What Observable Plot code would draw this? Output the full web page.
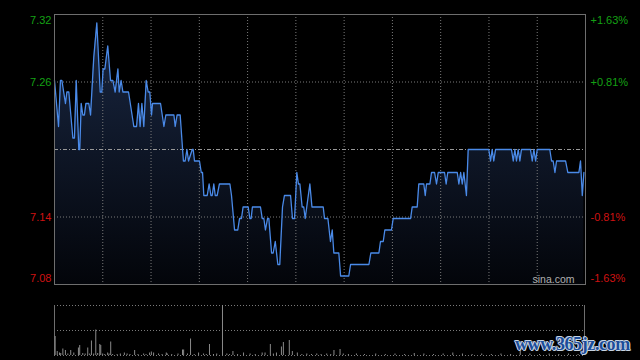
<!DOCTYPE html>
<html><head><meta charset="utf-8">
<script src="https://cdn.jsdelivr.net/npm/d3@7"></script>
<script src="https://cdn.jsdelivr.net/npm/@observablehq/plot@0.6"></script>
<style>
html,body{margin:0;padding:0;background:#000;}
#wrap{position:relative;width:640px;height:360px;overflow:hidden;background:#000;}
#price,#vol{position:absolute;left:0;}
#price{top:0;}
#vol{top:290px;}
#wm{position:absolute;left:515px;top:335px;font:bold 18px "Liberation Serif","Times New Roman",serif;letter-spacing:-0.4px;line-height:1;color:#1b4d9b;
text-shadow:1px 0 0 #c9d5e2,-1px 0 0 #c9d5e2,0 1px 0 #c9d5e2,0 -1px 0 #c9d5e2,1px 1px 0 #9fb2c8,-1px -1px 0 #9fb2c8;white-space:nowrap;}
</style></head>
<body>
<div id="wrap"><div id="price"></div><div id="vol"></div><div id="wm">www.365jz.com</div></div>
<script>
// ---- data (minutes since open, price) ----
const priceTimes = [0,2.5,3.7,4.6,6.8,7.7,8.9,11.4,12.4,13.5,15.1,15.7,16.6,17.6,18.6,19.5,21.3,22.4,24.4,26.3,
28.4,29.4,30.2,31.3,33.1,34.8,36.3,37.7,39.4,40.2,41.4,42.5,46,49.3,51,52.2,53.2,54.3,55.5,57,
58.2,59.2,60.3,60.9,65.9,68,69.2,74.2,75,76.2,78.1,80.1,81.2,82.3,83.3,85.6,86.2,87,90.1,91.2,
92,92.8,94.9,96.1,97.2,98,99,99.9,101.1,102.5,109,110,111.9,113.9,115,116.2,117.2,120.4,121.4,122.2,
123,128,129.1,130.1,131.1,132.4,133.2,134.9,135.9,137.2,138.8,140,141.7,142.9,146.7,147.9,149.2,150.6,151.6,152.5,
153.9,154.9,155.8,158.7,160,167,167.8,169.9,171.5,172.6,173.6,176.7,177.8,182.9,184,195.4,196.6,201.6,202.6,204.3,
205.3,209.4,210.5,221.3,222.3,225.4,226.4,229.5,230.4,231.2,233.3,234.3,236.2,237.4,238.5,242.4,243.4,244.4,250.3,251.3,
252.4,253.4,254.4,256,257.1,269.9,271,272,273,274.1,284,285.1,286.1,287.1,288.2,289.2,290.2,295.8,296.9,297.9,
299,300,307.8,308.9,309.9,311,312,317.6,319,325.9,326.9,328,329];
const priceValues = [7.26,7.22,7.26,7.26,7.24,7.25,7.25,7.21,7.21,7.26,7.20,7.20,7.24,7.23,7.23,7.24,7.24,7.23,7.28,7.31,
7.25,7.25,7.27,7.27,7.29,7.26,7.26,7.25,7.27,7.25,7.26,7.25,7.25,7.22,7.22,7.24,7.22,7.24,7.22,7.26,
7.25,7.25,7.23,7.24,7.24,7.22,7.23,7.23,7.22,7.23,7.23,7.19,7.19,7.20,7.19,7.20,7.20,7.19,7.19,7.18,
7.18,7.16,7.16,7.17,7.16,7.16,7.17,7.16,7.16,7.17,7.17,7.16,7.13,7.13,7.14,7.14,7.15,7.15,7.14,7.14,
7.15,7.15,7.14,7.14,7.13,7.14,7.14,7.11,7.11,7.12,7.10,7.10,7.15,7.16,7.16,7.14,7.14,7.18,7.17,7.17,
7.15,7.15,7.14,7.17,7.15,7.15,7.14,7.14,7.12,7.13,7.11,7.11,7.09,7.09,7.10,7.10,7.11,7.11,7.12,7.12,
7.13,7.13,7.14,7.14,7.15,7.15,7.17,7.17,7.16,7.17,7.17,7.18,7.18,7.17,7.18,7.18,7.17,7.18,7.18,7.17,
7.18,7.17,7.18,7.16,7.20,7.20,7.19,7.20,7.19,7.20,7.20,7.19,7.20,7.19,7.20,7.19,7.20,7.20,7.19,7.20,
7.19,7.20,7.20,7.19,7.19,7.18,7.19,7.19,7.18,7.18,7.19,7.16,7.18];
const volumeTimes = [0.4,1.7,3.1,3.9,5.2,6.8,8.3,10.1,12,14.9,15.7,17.6,19.1,20.7,21.9,23,24.4,25.7,26.9,28.2,
28.8,30,31.3,33.1,34,35,36.2,39,41,43.5,45.2,47,49.9,52,55.5,57,59.2,60.3,61.7,64.8,
67,69.6,70.2,73,76.9,79.7,80.4,82.8,84.7,87,89.7,92.8,94.5,96.5,99,101,104.6,107.3,109,111.1,
114,117.7,121.8,125,129.3,131.1,134.4,136.3,138.2,141.3,142.5,146.2,148.1,151.2,154,157.1,160,163.3,166,169.5,
172,174,177.8,179.8,183,188,193,200,206,212,218,224,230,236,242,248,254,260,266,272,
278,284,290,296,302,308,314,320,326];
const volumeValues = [38,8,5,4,13,10,3,10,5,15,20,4,3,15,3,29,3,51,4,22,
20,3,2,5,3,27,2,2,3,5,3,2,10,2,3,2,5,7,5,3,
2,5,3,2,3,11,11,3,33,2,5,3,2,22,2,3,180,3,2,8,
2,5,3,2,5,5,22,3,5,17,26,30,8,5,2,3,2,3,2,3,
2,10,12,3,2,3,2,3,2,3,2,4,3,2,3,5,3,2,3,2,
3,2,8,3,2,3,2,3,2];
const prevClose = 7.20;
const scaleValues = [7.3174, 7.2587, 7.1413, 7.0826];
const priceLabels = ["7.32", "7.26", "7.14", "7.08"];
const pctLabels = ["+1.63%", "+0.81%", "-0.81%", "-1.63%"];
const gridTimes = [30, 60, 90, 120, 150, 180, 210, 240, 270, 300];
const dayMinutes = 330;

// ---- chart ----
const series = priceTimes.map((t, i) => ({t, p: priceValues[i]}));
const vols = volumeTimes.map((t, i) => ({t, v: volumeValues[i]}));
const yMin = scaleValues[3], yMax = scaleValues[0];
const font = "'Liberation Sans', Arial, sans-serif";
const green = "#14a014", red = "#cf1212";
const labelDy = [6, 0, 0, -6];

const labelMarks = [];
scaleValues.forEach((v, i) => {
  const col = i < 2 ? green : red;
  labelMarks.push(Plot.text([v], {x: () => 0, y: d => d, text: () => priceLabels[i], dx: -3, dy: labelDy[i],
    textAnchor: "end", fill: col, fontSize: 11, fontFamily: font}));
  labelMarks.push(Plot.text([v], {x: () => dayMinutes, y: d => d, text: () => pctLabels[i], dx: 5, dy: labelDy[i],
    textAnchor: "start", fill: col, fontSize: 11, fontFamily: font}));
});

const pricePlot = Plot.plot({
  width: 640, height: 290,
  marginLeft: 54, marginRight: 55, marginTop: 14, marginBottom: 6,
  style: {background: "#000", overflow: "visible"},
  x: {domain: [0, dayMinutes], axis: null},
  y: {domain: [yMin, yMax], axis: null},
  marks: [
    Plot.areaY(series, {x: "t", y1: yMin, y2: "p", fill: "url(#fillGrad)", curve: "linear"}),
    Plot.ruleX(gridTimes, {stroke: "#7a7a7a", strokeDasharray: "1,2"}),
    Plot.ruleY([scaleValues[1], scaleValues[2]], {stroke: "#7a7a7a", strokeDasharray: "1,2"}),
    Plot.ruleY([prevClose], {stroke: "#999", strokeDasharray: "4,2,1,2"}),
    Plot.lineY(series, {x: "t", y: "p", stroke: "#4a8ae8", strokeWidth: 1.3}),
    Plot.frame({stroke: "#6e6e6e"}),
    Plot.text(["sina.com"], {x: () => dayMinutes, y: () => yMin, text: d => d, dx: -11, dy: -5,
      textAnchor: "end", fill: "#b0b0b0", fontSize: 10.5, fontFamily: font}),
    ...labelMarks
  ]
});
const svg = d3.select(pricePlot);
const grad = svg.insert("defs", ":first-child").append("linearGradient")
  .attr("id", "fillGrad").attr("gradientUnits", "userSpaceOnUse")
  .attr("x1", 0).attr("y1", 14).attr("x2", 0).attr("y2", 284);
grad.append("stop").attr("offset", 0).attr("stop-color", "#1a2844");
grad.append("stop").attr("offset", 1).attr("stop-color", "#03050a");
document.getElementById("price").appendChild(pricePlot);

const volPlot = Plot.plot({
  width: 640, height: 70,
  marginLeft: 54, marginRight: 56, marginTop: 15, marginBottom: 5,
  style: {background: "#000"},
  x: {domain: [0, dayMinutes], axis: null},
  y: {domain: [0, 100], axis: null, clamp: true},
  marks: [
    Plot.ruleY([100, 50, 0], {stroke: "#7a7a7a", strokeDasharray: "1,2"}),
    Plot.ruleX([0, dayMinutes], {y1: 0, y2: 100, stroke: "#6e6e6e"}),
    Plot.ruleX(vols, {x: "t", y1: 0, y2: "v", stroke: "#8a8a8a", strokeWidth: 1})
  ]
});
document.getElementById("vol").appendChild(volPlot);
</script>
</body></html>
